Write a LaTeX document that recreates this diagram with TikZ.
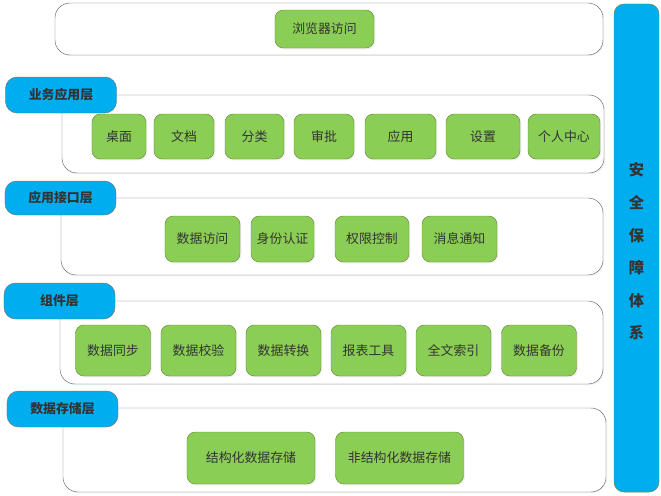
\documentclass[tikz,border=0pt]{standalone}
\usepackage{fontspec}
\setmainfont{Noto Sans CJK SC}
\usetikzlibrary{shapes,shadows}
\definecolor{layerblue}{HTML}{00AEEF}
\definecolor{modgreen}{HTML}{8ACE55}
\definecolor{modedge}{HTML}{6E8B3D}
\definecolor{txtgray}{HTML}{333333}
\tikzstyle{layer_box}=[rectangle, rounded corners=0.45cm, draw=black!60, fill=white, drop shadow={shadow xshift=1pt, shadow yshift=-1pt, fill=black!10}]
\tikzstyle{layer_tag}=[rectangle, rounded corners=0.35cm, draw=black!55, fill=layerblue, text=txtgray, font=\fontsize{11}{13}\selectfont\bfseries, minimum width=3.33cm]
\tikzstyle{mod_block}=[rectangle, rounded corners=0.25cm, draw=modedge, fill=modgreen, text=txtgray, font=\fontsize{11}{13}\selectfont, inner sep=1pt, drop shadow={shadow xshift=1.2pt, shadow yshift=-1.2pt, fill=black!12}]

\begin{document}
\begin{tikzpicture}[x=0.03cm,y=-0.03cm]
\useasboundingbox (0,0) rectangle (661,496);

% browser
\node[layer_box, minimum width=16.44cm, minimum height=1.56cm] (browser_box) at (329,29) {};
\node[mod_block, minimum width=2.97cm, minimum height=1.14cm] (browser) at (324.5,29) {浏览器访问};

% business layer
\node[layer_box, minimum width=16.26cm, minimum height=2.34cm] (biz_box) at (333,134) {};
\node[layer_tag, minimum height=1.08cm] (biz_tag) at (61,95) {业务应用层};
\node[mod_block, minimum width=1.62cm, minimum height=1.35cm] (desk) at (119,136.5) {桌面};
\node[mod_block, minimum width=1.80cm, minimum height=1.35cm] (doc) at (184,136.5) {文档};
\node[mod_block, minimum width=1.77cm, minimum height=1.35cm] (cat) at (254.5,136.5) {分类};
\node[mod_block, minimum width=1.80cm, minimum height=1.35cm] (approve) at (324,136.5) {审批};
\node[mod_block, minimum width=2.13cm, minimum height=1.35cm] (app) at (400.5,136.5) {应用};
\node[mod_block, minimum width=2.22cm, minimum height=1.35cm] (settings) at (483,136.5) {设置};
\node[mod_block, minimum width=2.16cm, minimum height=1.35cm] (personal) at (564,136.5) {个人中心};

% interface layer
\node[layer_box, minimum width=16.26cm, minimum height=2.31cm] (api_box) at (332,236.5) {};
\node[layer_tag, minimum height=1.02cm] (api_tag) at (60.5,198) {应用接口层};
\node[mod_block, minimum width=2.25cm, minimum height=1.38cm] (access) at (202.5,239) {数据访问};
\node[mod_block, minimum width=1.89cm, minimum height=1.38cm] (auth) at (282.5,239) {身份认证};
\node[mod_block, minimum width=2.22cm, minimum height=1.38cm] (perm) at (372,239) {权限控制};
\node[mod_block, minimum width=2.25cm, minimum height=1.38cm] (notify) at (459.5,239) {消息通知};

% component layer
\node[layer_box, minimum width=16.29cm, minimum height=2.49cm] (comp_box) at (331.5,342.5) {};
\node[layer_tag, minimum height=1.08cm] (comp_tag) at (59.5,301) {组件层};
\node[mod_block, minimum width=2.25cm, minimum height=1.53cm] (sync) at (113,350.5) {数据同步};
\node[mod_block, minimum width=2.25cm, minimum height=1.53cm] (check) at (198.5,350.5) {数据校验};
\node[mod_block, minimum width=2.25cm, minimum height=1.53cm] (convert) at (283.5,350.5) {数据转换};
\node[mod_block, minimum width=2.25cm, minimum height=1.53cm] (report) at (368.5,350.5) {报表工具};
\node[mod_block, minimum width=2.25cm, minimum height=1.53cm] (index) at (453.5,350.5) {全文索引};
\node[mod_block, minimum width=2.25cm, minimum height=1.53cm] (backup) at (539,350.5) {数据备份};

% storage layer
\node[layer_box, minimum width=16.29cm, minimum height=2.52cm] (store_box) at (334.5,450) {};
\node[layer_tag, minimum height=1.08cm] (store_tag) at (62.5,409) {数据存储层};
\node[mod_block, minimum width=3.84cm, minimum height=1.56cm] (struct) at (251,458) {结构化数据存储};
\node[mod_block, minimum width=3.84cm, minimum height=1.56cm] (unstruct) at (399.5,458) {非结构化数据存储};

% security bar
\node[rectangle, rounded corners=0.3cm, draw=modedge, fill=layerblue, minimum width=1.35cm, minimum height=14.64cm] (security) at (636.5,248) {};
\node[text=txtgray, font=\fontsize{13}{27.8}\selectfont\bfseries, align=center] (security_txt) at (636.5,251.5) {安\\全\\保\\障\\体\\系};
\end{tikzpicture}
\end{document}
